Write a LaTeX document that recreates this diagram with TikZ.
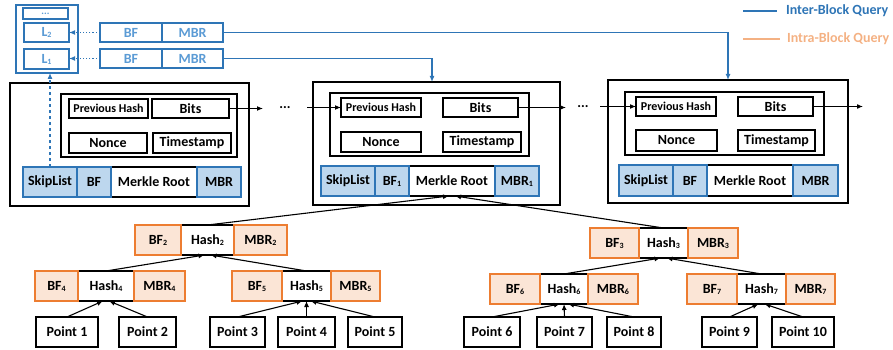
\documentclass[tikz,border=0pt]{standalone}
\usepackage{fontspec}
\setmainfont{Carlito}
\usetikzlibrary{arrows.meta, positioning}
\definecolor{interblue}{RGB}{46,117,182}
\definecolor{lightblue}{RGB}{91,155,213}
\definecolor{cellblue}{RGB}{189,215,238}
\definecolor{treeorange}{RGB}{237,125,49}
\definecolor{cellorange}{RGB}{251,229,214}
\definecolor{intraorange}{RGB}{244,177,131}
\newcommand{\sbi}[1]{\raisebox{-1pt}{\fontsize{8}{8}\selectfont #1}}
\tikzset{
  every node/.style={font=\fontsize{14}{16}\selectfont\bfseries, inner sep=0pt, outer sep=0pt},
  blockbox/.style={draw, line width=1.4pt},
  field/.style={draw, line width=1.3pt, fill=white, minimum height=19pt},
  bluecell/.style={draw=interblue, line width=1.3pt, fill=cellblue, minimum height=30pt},
  whitecell/.style={draw, line width=1.3pt, fill=white, minimum height=30pt},
  indexcell/.style={draw=interblue, line width=1.3pt, fill=white, text=lightblue, minimum height=19pt},
  treecell/.style={draw=treeorange, line width=1.3pt, fill=cellorange, minimum height=30pt, minimum width=50pt},
  hashcell/.style={draw, line width=1.3pt, fill=white, minimum height=30pt, minimum width=50pt},
  pointbox/.style={draw, line width=1.3pt, fill=white, minimum height=30pt},
  chain/.style={->, line width=1.2pt},
  tree/.style={->, line width=1.1pt},
  inter/.style={->, draw=interblue, line width=1.3pt}
}

\begin{document}
\begin{tikzpicture}[x=1pt, y=-1pt, >={Latex[length=6pt,width=5pt]}]
  \useasboundingbox (0,0) rectangle (893,350);

  % skip list index
  \node[draw=interblue, line width=1.3pt, minimum width=62pt, minimum height=68pt] (skip) at (47,39) {};
  \node[indexcell, minimum width=45pt, minimum height=11pt, font=\fontsize{10}{10}\selectfont\bfseries] (lvdots) at (45.5,13.5) {...};
  \node[indexcell, minimum width=45pt] (lvtwo) at (46.5,32.5) {L\sbi{2}};
  \node[indexcell, minimum width=45pt, minimum height=20pt] (lvone) at (46.5,59) {L\sbi{1}};
  \node[indexcell, minimum width=62pt] (bfA) at (131,32.5) {BF};
  \node[indexcell, minimum width=61pt, right=0pt of bfA] (mbrA) {MBR};
  \node[indexcell, minimum width=62pt] (bfB) at (131,58.5) {BF};
  \node[indexcell, minimum width=61pt, right=0pt of bfB] (mbrB) {MBR};

  % legend
  \node[anchor=west, text=interblue] (interlbl) at (786,11) {Inter-Block Query};
  \node[anchor=west, text=intraorange] (intralbl) at (787,39) {Intra-Block Query};
  \coordinate (legI) at (743,11);
  \coordinate (legO) at (743,39);
  \draw[interblue, line width=1.5pt] (legI) -- ++(34,0);
  \draw[intraorange, line width=1.5pt] (legO) -- ++(37,0);

  % block 1
  \node[blockbox, minimum width=239pt, minimum height=123pt] (blk1) at (129.5,144.5) {};
  \node[blockbox, minimum width=176pt, minimum height=63pt] (hdr1) at (149,125.5) {};
  \node[field, minimum width=79pt, font=\fontsize{12}{14}\selectfont\bfseries] (prev1) at (108.5,108.5) {Previous Hash};
  \node[field, minimum width=77pt] (bits1) at (190.5,108.5) {Bits};
  \node[field, minimum width=78pt, minimum height=20pt] (nonce1) at (108,143) {Nonce};
  \node[field, minimum width=78pt, minimum height=20pt] (time1) at (192,143) {Timestamp};
  \node[whitecell, minimum width=86pt] (root1) at (154,182) {Merkle Root};
  \node[bluecell, minimum width=34pt, left=0pt of root1] (bfblk1) {BF};
  \node[bluecell, minimum width=54pt, left=0pt of bfblk1] (skl1) {SkipList};
  \node[bluecell, minimum width=44pt, right=0pt of root1] (mbrblk1) {MBR};

  % block 2
  \node[blockbox, minimum width=247pt, minimum height=123pt] (blk2) at (436.5,143.5) {};
  \node[blockbox, minimum width=199pt, minimum height=63pt] (hdr2) at (429.5,124.5) {};
  \node[field, minimum width=80pt, font=\fontsize{12}{14}\selectfont\bfseries] (prev2) at (381,107.5) {Previous Hash};
  \node[field, minimum width=75pt] (bits2) at (480.5,107.5) {Bits};
  \node[field, minimum width=80pt, minimum height=20pt] (nonce2) at (381,142) {Nonce};
  \node[field, minimum width=78pt, minimum height=20pt] (time2) at (482,142) {Timestamp};
  \node[whitecell, minimum width=86pt] (root2) at (452,181) {Merkle Root};
  \node[bluecell, minimum width=34pt, left=0pt of root2] (bfblk2) {BF\sbi{1}};
  \node[bluecell, minimum width=54pt, left=0pt of bfblk2] (skl2) {SkipList};
  \node[bluecell, minimum width=44pt, right=0pt of root2] (mbrblk2) {MBR\sbi{1}};

  % block 3
  \node[blockbox, minimum width=240pt, minimum height=123pt] (blk3) at (728,141.5) {};
  \node[blockbox, minimum width=199pt, minimum height=63pt] (hdr3) at (724.5,123.5) {};
  \node[field, minimum width=80pt, font=\fontsize{12}{14}\selectfont\bfseries] (prev3) at (676,106.5) {Previous Hash};
  \node[field, minimum width=75pt] (bits3) at (775.5,106.5) {Bits};
  \node[field, minimum width=81pt, minimum height=21pt] (nonce3) at (676.5,140.5) {Nonce};
  \node[field, minimum width=77pt, minimum height=21pt] (time3) at (776.5,140.5) {Timestamp};
  \node[whitecell, minimum width=86pt, minimum height=31pt] (root3) at (750,180.5) {Merkle Root};
  \node[bluecell, minimum width=34pt, minimum height=31pt, left=0pt of root3] (bfblk3) {BF};
  \node[bluecell, minimum width=54pt, minimum height=31pt, left=0pt of bfblk3] (skl3) {SkipList};
  \node[bluecell, minimum width=45pt, minimum height=31pt, right=0pt of root3] (mbrblk3) {MBR};

  % chain of blocks
  \node[minimum width=44pt] (gap1) at (285,108) {...};
  \node[minimum width=34pt] (gap2) at (583,107) {...};
  \coordinate (tail) at (863,106.5);
  \draw[chain] (bits1.east) -- (bits1.east -| gap1.west);
  \draw[chain] (gap1.east |- prev2.west) -- (prev2.west);
  \draw[chain] (bits2.east) -- (bits2.east -| gap2.west);
  \draw[chain] (gap2.east |- prev3.west) -- (prev3.west);
  \draw[chain] (bits3.east) -- (tail);

  % inter-block query
  \draw[->, interblue, dotted, line width=1.2pt] (bfA.west) -- (bfA.west -| lvtwo.east);
  \draw[->, interblue, dotted, line width=1.2pt] (bfB.west) -- (bfB.west -| lvone.east);
  \draw[inter] (mbrA.east) -| (blk3.north);
  \draw[inter] (mbrB.east) -| ([xshift=-4.5pt]blk2.north);
  \draw[->, interblue, dashed, line width=1.1pt] (skl1.north) -- (skl1.north |- skip.south);

  % merkle tree
  \node[hashcell, minimum width=53pt] (hash2) at (207.5,240) {Hash\sbi{2}};
  \node[treecell, minimum width=46pt, left=0pt of hash2] (bft2) {BF\sbi{2}};
  \node[treecell, minimum width=53pt, right=0pt of hash2] (mbrt2) {MBR\sbi{2}};
  \node[hashcell, minimum width=49pt] (hash3) at (663.5,243) {Hash\sbi{3}};
  \node[treecell, minimum width=49pt, left=0pt of hash3] (bft3) {BF\sbi{3}};
  \node[treecell, right=0pt of hash3] (mbrt3) {MBR\sbi{3}};
  \node[hashcell, minimum width=56pt] (hash4) at (106,286) {Hash\sbi{4}};
  \node[treecell, minimum width=43pt, left=0pt of hash4] (bft4) {BF\sbi{4}};
  \node[treecell, minimum width=51pt, right=0pt of hash4] (mbrt4) {MBR\sbi{4}};
  \node[hashcell, minimum width=49pt] (hash5) at (306.5,286) {Hash\sbi{5}};
  \node[treecell, left=0pt of hash5] (bft5) {BF\sbi{5}};
  \node[treecell, minimum width=49pt, right=0pt of hash5] (mbrt5) {MBR\sbi{5}};
  \node[hashcell, minimum width=48pt] (hash6) at (564,289) {Hash\sbi{6}};
  \node[treecell, left=0pt of hash6] (bft6) {BF\sbi{6}};
  \node[treecell, right=0pt of hash6] (mbrt6) {MBR\sbi{6}};
  \node[hashcell, minimum width=49pt] (hash7) at (761.5,289) {Hash\sbi{7}};
  \node[treecell, left=0pt of hash7] (bft7) {BF\sbi{7}};
  \node[treecell, minimum width=49pt, right=0pt of hash7] (mbrt7) {MBR\sbi{7}};

  \node[pointbox, minimum width=62pt] (pt1) at (67,332) {Point 1};
  \node[pointbox, minimum width=57pt] (pt2) at (147.5,332) {Point 2};
  \node[pointbox, minimum width=55pt] (pt3) at (237.5,332) {Point 3};
  \node[pointbox, minimum width=57pt] (pt4) at (306.5,332) {Point 4};
  \node[pointbox, minimum width=54pt] (pt5) at (375,332) {Point 5};
  \node[pointbox, minimum width=56pt] (pt6) at (492,332) {Point 6};
  \node[pointbox, minimum width=55pt] (pt7) at (564.5,332) {Point 7};
  \node[pointbox, minimum width=54pt] (pt8) at (634,332) {Point 8};
  \node[pointbox, minimum width=55pt] (pt9) at (729.5,332) {Point 9};
  \node[pointbox, minimum width=62pt] (pt10) at (803,332) {Point 10};

  \draw[tree] (hash2.north) -- ([xshift=-3pt]root2.south);
  \draw[tree] (hash3.north) -- ([xshift=3pt]root2.south);
  \draw[tree] (hash4.north) -- ([xshift=-3pt]hash2.south);
  \draw[tree] (hash5.north) -- ([xshift=3pt]hash2.south);
  \draw[tree] (hash6.north) -- ([xshift=-3pt]hash3.south);
  \draw[tree] (hash7.north) -- ([xshift=3pt]hash3.south);
  \draw[tree] (pt1.north) -- ([xshift=-3pt]hash4.south);
  \draw[tree] (pt2.north) -- ([xshift=3pt]hash4.south);
  \draw[tree] (pt3.north) -- ([xshift=-4pt]hash5.south);
  \draw[tree] (pt4.north) -- (hash5.south);
  \draw[tree] (pt5.north) -- ([xshift=4pt]hash5.south);
  \draw[tree] (pt6.north) -- ([xshift=-4pt]hash6.south);
  \draw[tree] (pt7.north) -- (hash6.south);
  \draw[tree] (pt8.north) -- ([xshift=4pt]hash6.south);
  \draw[tree] (pt9.north) -- ([xshift=-3pt]hash7.south);
  \draw[tree] (pt10.north) -- ([xshift=3pt]hash7.south);
\end{tikzpicture}
\end{document}
